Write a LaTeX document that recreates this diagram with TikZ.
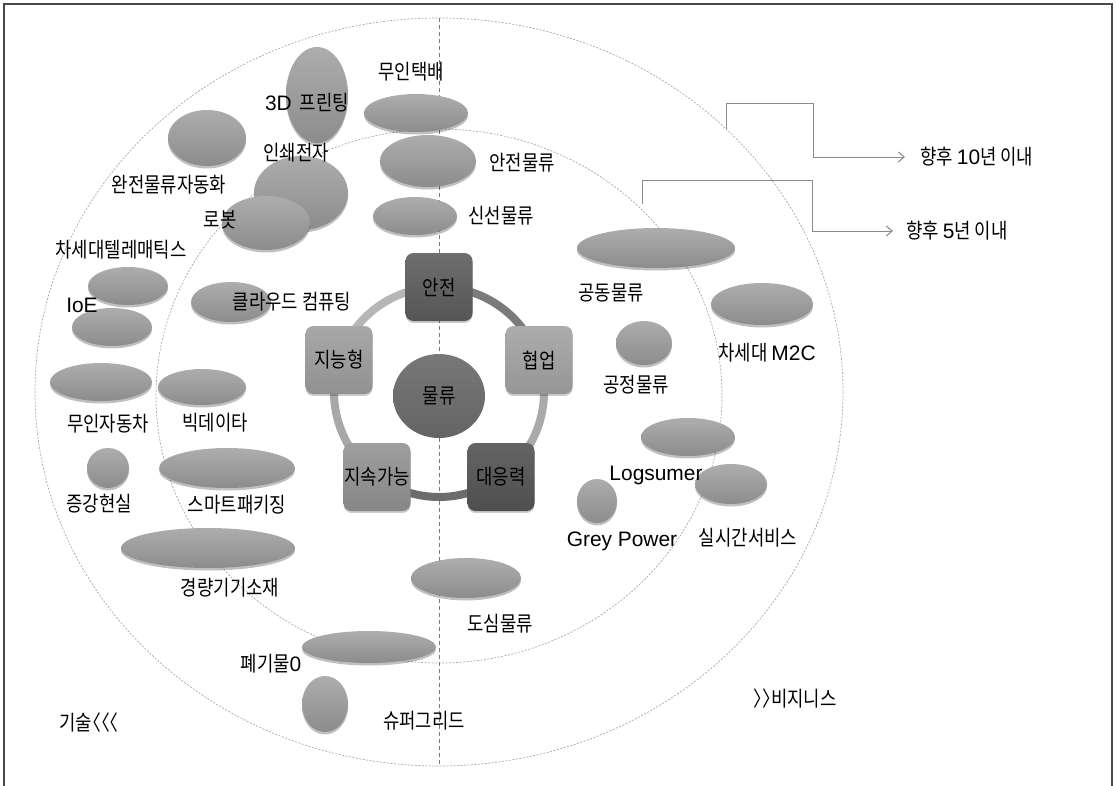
\documentclass[tikz,border=0pt]{standalone}
\usepackage{fontspec}
\setmainfont[FakeStretch=0.85]{Noto Sans CJK KR}
\newfontfamily\halffont[FakeStretch=0.85,RawFeature=+halt]{Noto Sans CJK KR}
\newfontfamily\latfont{Liberation Sans}
\usetikzlibrary{shapes.geometric,shadows,arrows.meta}
\definecolor{frameC}{HTML}{4A4A4A}
\definecolor{ringlineC}{HTML}{A8A8A8}
\definecolor{vlineC}{HTML}{7A7A7A}
\definecolor{blobTop}{HTML}{ADADAD}
\definecolor{blobBot}{HTML}{8C8C8C}
\definecolor{arrowC}{HTML}{8A8A8A}
\tikzset{
  lbl/.style={inner sep=0pt, font=\fontsize{21}{23}\selectfont, text=black},
  blob/.style={ellipse, inner sep=0pt, draw=none, top color=blobTop, bottom color=blobBot,
     drop shadow={shadow xshift=0pt, shadow yshift=-2.5pt, opacity=0.25, fill=black}},
  stepbox/.style={rounded corners=8bp, minimum width=67bp, minimum height=68bp, inner sep=0pt,
     font=\fontsize{21}{23}\selectfont, text=black,
     drop shadow={shadow xshift=0pt, shadow yshift=-2pt, opacity=0.2, fill=black}},
  ringseg/.style={line width=8bp},
  ringline/.style={draw=ringlineC, line width=0.7bp, dash pattern=on 2bp off 1.5bp},
  bracket/.style={draw=arrowC, line width=1bp, -{Straight Barb[length=6bp,width=10bp]}}
}
\begin{document}
\begin{tikzpicture}[x=1bp,y=-1bp]
\useasboundingbox (0,0) rectangle (1116,786);
% frame
\draw[frameC, line width=1.6bp] (4,800) -- (4,4) -- (1112,4) -- (1112,800);
% rings
\draw[ringline] (439,392) ellipse[x radius=404, y radius=374];
\draw[ringline] (439,396) ellipse[x radius=283, y radius=267];
\draw[vlineC, line width=0.8bp, dash pattern=on 4bp off 3bp] (439,18) -- (439,766);

% bracket connectors
\coordinate (b10) at (726,129);
\coordinate (b5) at (642,204);
\node[lbl, anchor=west] (l10) at (920,157) {향후 {\latfont 10}년 이내};
\node[lbl, anchor=west] (l5) at (906,231) {향후 {\latfont 5}년 이내};
\draw[bracket] (b10) |- (813,103) |- ([xshift=-15bp]l10.west);
\draw[bracket] (b5) |- (812,180) |- ([xshift=-13bp]l5.west);

% blobs
\node[blob, minimum width=62bp, minimum height=96bp] (e3d) at (317,95) {};
\node[blob, minimum width=104bp, minimum height=38bp] (etaekbae) at (416,113) {};
\node[blob, minimum width=78bp, minimum height=56bp] (eauto) at (207,138) {};
\node[blob, minimum width=94bp, minimum height=74bp] (eprint) at (301,193) {};
\node[blob, minimum width=88bp, minimum height=54bp] (erobot) at (266,223) {};
\node[blob, minimum width=96bp, minimum height=52bp] (esafe) at (428,161) {};
\node[blob, minimum width=84bp, minimum height=38bp] (efresh) at (415,216) {};
\node[blob, minimum width=80bp, minimum height=38bp] (etele) at (128,286) {};
\node[blob, minimum width=80bp, minimum height=38bp] (eioe) at (112,327) {};
\node[blob, minimum width=80bp, minimum height=40bp] (ecloud) at (231,302) {};
\node[blob, minimum width=102bp, minimum height=38bp] (ecar) at (101,382) {};
\node[blob, minimum width=88bp, minimum height=36bp] (ebig) at (202,387) {};
\node[blob, minimum width=42bp, minimum height=40bp] (ear) at (108,468) {};
\node[blob, minimum width=136bp, minimum height=40bp] (epack) at (227,468) {};
\node[blob, minimum width=174bp, minimum height=40bp] (elight) at (208,548) {};
\node[blob, minimum width=134bp, minimum height=32bp] (ewaste) at (369,647) {};
\node[blob, minimum width=46bp, minimum height=56bp] (egrid) at (325,704) {};
\node[blob, minimum width=110bp, minimum height=40bp] (ecity) at (466,578) {};
\node[blob, minimum width=158bp, minimum height=40bp] (eshare) at (656,248) {};
\node[blob, minimum width=102bp, minimum height=42bp] (em2c) at (762,304) {};
\node[blob, minimum width=56bp, minimum height=44bp] (efair) at (644,343) {};
\node[blob, minimum width=94bp, minimum height=38bp] (elog) at (688,437) {};
\node[blob, minimum width=72bp, minimum height=40bp] (ereal) at (731,484) {};
\node[blob, minimum width=40bp, minimum height=44bp] (egrey) at (597,501) {};

% hub ring
\coordinate (hub) at (439,392);
\draw[ringseg, color={rgb,255:red,123;green,123;blue,123}] ([shift={(-90:105)}]hub) arc[start angle=-90, end angle=-18, radius=105];
\draw[ringseg, color={rgb,255:red,170;green,170;blue,170}] ([shift={(-18:105)}]hub) arc[start angle=-18, end angle=54, radius=105];
\draw[ringseg, color={rgb,255:red,108;green,108;blue,108}] ([shift={(54:105)}]hub) arc[start angle=54, end angle=126, radius=105];
\draw[ringseg, color={rgb,255:red,168;green,168;blue,168}] ([shift={(126:105)}]hub) arc[start angle=126, end angle=198, radius=105];
\draw[ringseg, color={rgb,255:red,182;green,182;blue,182}] ([shift={(198:105)}]hub) arc[start angle=198, end angle=270, radius=105];

\node[stepbox, top color={rgb,255:red,110;green,110;blue,110}, bottom color={rgb,255:red,85;green,85;blue,85}] (safe) at (439,287) {안전};
\node[stepbox, top color={rgb,255:red,172;green,172;blue,172}, bottom color={rgb,255:red,150;green,150;blue,150}] (collab) at (539,360) {협업};
\node[stepbox, top color={rgb,255:red,100;green,100;blue,100}, bottom color={rgb,255:red,78;green,78;blue,78}] (resp) at (501,477) {대응력};
\node[stepbox, top color={rgb,255:red,158;green,158;blue,158}, bottom color={rgb,255:red,134;green,134;blue,134}] (sustain) at (377,477) {지속가능};
\node[stepbox, top color={rgb,255:red,168;green,168;blue,168}, bottom color={rgb,255:red,145;green,145;blue,145}] (intel) at (339,360) {지능형};
\node[ellipse, inner sep=0pt, minimum width=92bp, minimum height=84bp, top color={rgb,255:red,120;green,120;blue,120}, bottom color={rgb,255:red,100;green,100;blue,100}, font=\fontsize{21}{23}\selectfont] (logi) at (439,396) {물류};

% labels
\node[lbl] (t3d) at (307,103) {{\latfont 3D}\hspace{8bp}프린팅};
\node[lbl] (ttaekbae) at (411,72) {무인택배};
\node[lbl] (tauto) at (169,185) {완전물류자동화};
\node[lbl] (tprint) at (296,153) {인쇄전자};
\node[lbl] (trobot) at (220,220) {로봇};
\node[lbl] (tsafe) at (522,163) {안전물류};
\node[lbl] (tfresh) at (501,216) {신선물류};
\node[lbl] (ttele) at (121,250) {차세대텔레매틱스};
\node[lbl] (tioe) at (82,305) {\latfont IoE};
\node[lbl] (tcloud) at (292,302) {클라우드 컴퓨팅};
\node[lbl] (tcar) at (108,424) {무인자동차};
\node[lbl] (tbig) at (215,423) {빅데이타};
\node[lbl] (tar) at (99,504) {증강현실};
\node[lbl] (tpack) at (237,505) {스마트패키징};
\node[lbl] (tlight) at (230,588) {경량기기소재};
\node[lbl] (twaste) at (271,664) {폐기물{\latfont 0}};
\node[lbl] (tgrid) at (424,721) {슈퍼그리드};
\node[lbl] (tcity) at (500,624) {도심물류};
\node[lbl] (ttech) at (89,723) {기술{\halffont 〈〈〈}};
\node[lbl] (tbiz) at (795,699) {{\halffont 〉〉}비지니스};
\node[lbl] (tshare) at (611,293) {공동물류};
\node[lbl] (tm2c) at (767,353) {차세대 {\latfont M2C}};
\node[lbl] (tfair) at (636,385) {공정물류};
\node[lbl] (tlog) at (656,475) {\latfont Logsumer};
\node[lbl] (treal) at (748,538) {실시간서비스};
\node[lbl] (tgrey) at (622,541) {\latfont Grey Power};
\end{tikzpicture}
\end{document}
